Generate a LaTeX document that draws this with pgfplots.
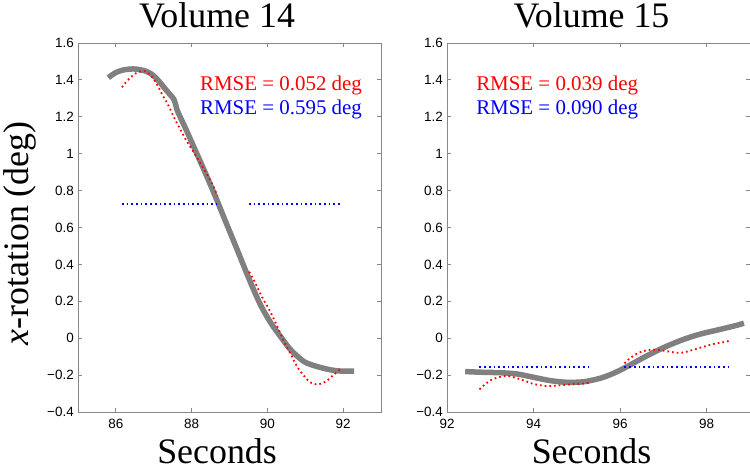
\documentclass[border=0pt]{standalone}
\usepackage{pgfplots}
\pgfplotsset{compat=1.18}
\usepackage{fontspec}
\setmainfont{Liberation Serif}
\newfontfamily\tickfont{Liberation Sans}
\definecolor{axgray}{RGB}{136,136,136}
\definecolor{linegray}{RGB}{128,128,128}
\definecolor{rred}{RGB}{255,0,0}
\definecolor{bblue}{RGB}{0,0,255}

\pgfplotstableread{
x y
85.80 1.412
86.00 1.440
86.20 1.454
86.40 1.459
86.55 1.458
86.75 1.450
86.91 1.436
87.05 1.412
87.17 1.385
87.30 1.352
87.44 1.318
87.53 1.295
87.58 1.265
87.63 1.230
87.86 1.128
88.05 1.040
88.30 0.925
88.50 0.830
88.68 0.742
88.85 0.656
89.03 0.566
89.20 0.481
89.34 0.410
89.56 0.300
89.82 0.180
90.09 0.083
90.35 0.008
90.62 -0.064
90.97 -0.127
91.32 -0.154
91.68 -0.172
91.94 -0.178
92.29 -0.178
}\grayA

\pgfplotstableread{
x y
86.16 1.360
86.28 1.390
86.40 1.416
86.53 1.436
86.65 1.445
86.77 1.447
86.89 1.430
87.00 1.403
87.12 1.363
87.23 1.318
87.37 1.269
87.49 1.217
87.60 1.170
87.72 1.125
87.84 1.078
87.97 1.036
88.09 0.997
88.21 0.955
88.33 0.915
88.45 0.872
88.57 0.825
88.68 0.771
}\redAa

\pgfplotstableread{
x y
89.52 0.360
89.65 0.312
89.77 0.261
89.89 0.212
90.02 0.165
90.14 0.117
90.26 0.064
90.37 0.014
90.49 -0.039
90.62 -0.087
90.73 -0.134
90.85 -0.174
90.98 -0.207
91.10 -0.234
91.22 -0.247
91.34 -0.250
91.46 -0.243
91.58 -0.230
91.69 -0.209
91.82 -0.187
91.94 -0.167
}\redAb

\pgfplotstableread{
x y
92.42 -0.181
92.85 -0.185
93.23 -0.187
93.62 -0.194
94.00 -0.212
94.39 -0.230
94.77 -0.239
95.16 -0.236
95.54 -0.217
95.85 -0.190
96.16 -0.154
96.47 -0.114
96.78 -0.076
97.09 -0.042
97.47 -0.006
97.86 0.023
98.24 0.044
98.63 0.066
98.86 0.081
}\grayB

\pgfplotstableread{
x y
92.75 -0.277
92.86 -0.254
92.99 -0.230
93.12 -0.217
93.23 -0.209
93.35 -0.205
93.46 -0.207
93.58 -0.214
93.69 -0.223
93.81 -0.232
93.93 -0.243
94.04 -0.250
94.16 -0.255
94.27 -0.259
94.39 -0.259
94.62 -0.255
94.85 -0.250
95.08 -0.247
95.31 -0.241
}\redBa

\pgfplotstableread{
x y
96.10 -0.136
96.20 -0.114
96.31 -0.095
96.43 -0.079
96.55 -0.069
96.66 -0.064
96.78 -0.062
97.01 -0.068
97.24 -0.077
97.36 -0.079
97.47 -0.077
97.70 -0.062
97.93 -0.046
98.16 -0.031
98.40 -0.021
98.51 -0.015
}\redBb

\pgfplotsset{
  myaxis/.style={
    scale only axis, width=303bp, height=369bp,
    ymin=-0.4, ymax=1.6,
    ytick={-0.4,-0.2,0,0.2,0.4,0.6,0.8,1,1.2,1.4,1.6},
    yticklabels={−0.4,−0.2,0,0.2,0.4,0.6,0.8,1,1.2,1.4,1.6},
    tick align=inside, major tick length=4bp,
    axis line style={axgray, line width=0.8bp},
    every tick/.style={axgray, line width=0.8bp},
    /pgf/number format/assume math mode=true,
    tick label style={font=\fontsize{13.5}{15}\tickfont, inner sep=0pt, text=black},
    yticklabel style={xshift=-4bp},
    xticklabel style={yshift=-7bp},
    title style={font=\fontsize{36}{40}\selectfont, anchor=base, yshift=10bp},
    xlabel style={font=\fontsize{36}{40}\selectfont, anchor=base, inner sep=0pt, yshift=-51bp},
    ylabel style={font=\fontsize{36}{40}\selectfont, anchor=base, yshift=49bp},
    grayline/.style={linegray, line width=5.5bp, smooth},
    redline/.style={rred, line width=1.8bp, dash pattern=on 1.7bp off 3bp, smooth},
    blueline/.style={bblue, line width=1.8bp, dash pattern=on 1.7bp off 3bp},
  }
}

\begin{document}
\begin{tikzpicture}
\path[use as bounding box] (0,0) rectangle (750bp,472bp);
\begin{axis}[myaxis, at={(78bp,60bp)}, anchor=south west,
  xmin=85, xmax=93, xtick={86,88,90,92},
  title={Volume 14}, title style={at={(axis description cs:0.459,1)}},
  xlabel={Seconds}, xlabel style={at={(axis description cs:0.459,0)}},
  ylabel={\textit{x}-rotation (deg)}, ylabel style={at={(axis description cs:0,0.484)}}]
\addplot[grayline] table {\grayA};
\addplot[redline] table {\redAa};
\addplot[redline] table {\redAb};
\addplot[blueline] coordinates {(86.16,0.726) (88.68,0.726)};
\addplot[blueline] coordinates {(89.51,0.726) (91.94,0.726)};
\node[anchor=base west, text=rred, font=\fontsize{21}{24}\selectfont, inner sep=0pt] at (rel axis cs:0.4026,0.870) {RMSE = 0.052 deg};
\node[anchor=base west, text=bblue, font=\fontsize{21}{24}\selectfont, inner sep=0pt] at (rel axis cs:0.4026,0.805) {RMSE = 0.595 deg};
\end{axis}
\begin{axis}[myaxis, at={(447bp,60bp)}, anchor=south west,
  xmin=92, xmax=99, xtick={92,94,96,98},
  title={Volume 15}, title style={at={(axis description cs:0.477,1)}},
  xlabel={Seconds}, xlabel style={at={(axis description cs:0.477,0)}}]
\addplot[grayline] table {\grayB};
\addplot[redline] table {\redBa};
\addplot[redline] table {\redBb};
\addplot[blueline] coordinates {(92.75,-0.156) (95.31,-0.156)};
\addplot[blueline] coordinates {(96.10,-0.156) (98.51,-0.156)};
\node[anchor=base west, text=rred, font=\fontsize{21}{24}\selectfont, inner sep=0pt] at (rel axis cs:0.096,0.870) {RMSE = 0.039 deg};
\node[anchor=base west, text=bblue, font=\fontsize{21}{24}\selectfont, inner sep=0pt] at (rel axis cs:0.096,0.805) {RMSE = 0.090 deg};
\end{axis}
\end{tikzpicture}
\end{document}
